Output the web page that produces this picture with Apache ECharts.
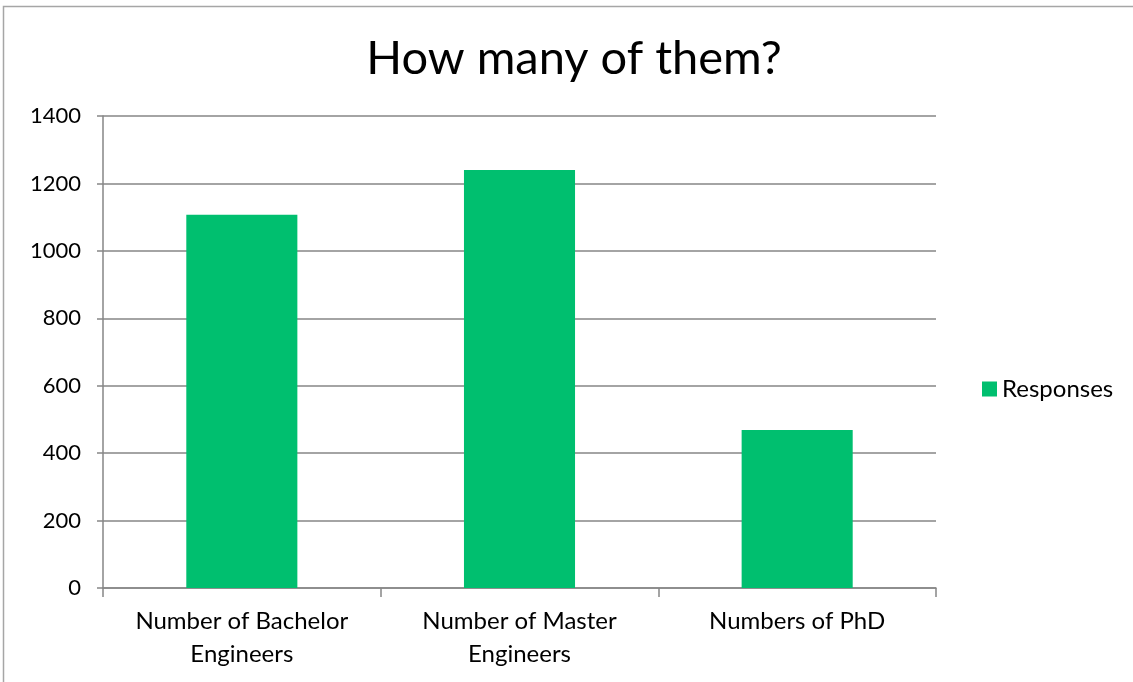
<!DOCTYPE html>
<html><head><meta charset="utf-8">
<script src="https://cdn.jsdelivr.net/npm/echarts@6/dist/echarts.min.js"></script>
<style>html,body{margin:0;padding:0;background:#fff;}#c{width:1133px;height:682px;}</style>
</head><body><div id="c"></div>
<script>
const categories = ["Number of Bachelor\nEngineers", "Number of Master\nEngineers", "Numbers of PhD"];
const responses = [1107, 1240, 469];
const seriesName = "Responses";
const titleText = "How many of them?";

const chart = echarts.init(document.getElementById('c'));
const font = "Lato, 'Open Sans', sans-serif";
chart.setOption({
  animation: false,
  backgroundColor: '#fff',
  title: { text: titleText, left: 569, top: 30, textAlign: 'center',
    textStyle: { fontFamily: font, fontSize: 47, fontWeight: 'normal', color: '#000' } },
  legend: { data: [seriesName], left: 977, top: 372, itemWidth: 15, itemHeight: 15, itemGap: 6,
    icon: 'rect', textStyle: { fontFamily: font, fontSize: 24, color: '#000' } },
  grid: { left: 103, right: 197, top: 116, bottom: 94, containLabel: false },
  xAxis: { type: 'category', data: categories,
    axisLine: { lineStyle: { color: '#868686', width: 1.5 } },
    axisTick: { show: true, length: 9, alignWithLabel: false, lineStyle: { color: '#868686', width: 1.5 } },
    axisLabel: { fontFamily: font, fontSize: 24, color: '#000', margin: 17, lineHeight: 33, interval: 0 } },
  yAxis: { type: 'value', min: 0, max: 1400, interval: 200,
    axisLine: { show: true, lineStyle: { color: '#868686', width: 1.5 } },
    axisTick: { show: true, length: 6, lineStyle: { color: '#868686', width: 1.5 } },
    splitLine: { lineStyle: { color: '#868686', width: 1.5 } },
    axisLabel: { fontFamily: font, fontSize: 22, color: '#000', margin: 22, formatter: v => String(v) } },
  series: [{ name: seriesName, type: 'bar', data: responses, barWidth: '40%',
    itemStyle: { color: '#00BF6F' } }],
  graphic: [{ type: 'rect', shape: { x: 3.5, y: 6.5, width: 1140, height: 700 },
    style: { fill: 'none', stroke: '#a6a6a6', lineWidth: 1.5 }, silent: true, z: -1 }]
});
</script></body></html>
